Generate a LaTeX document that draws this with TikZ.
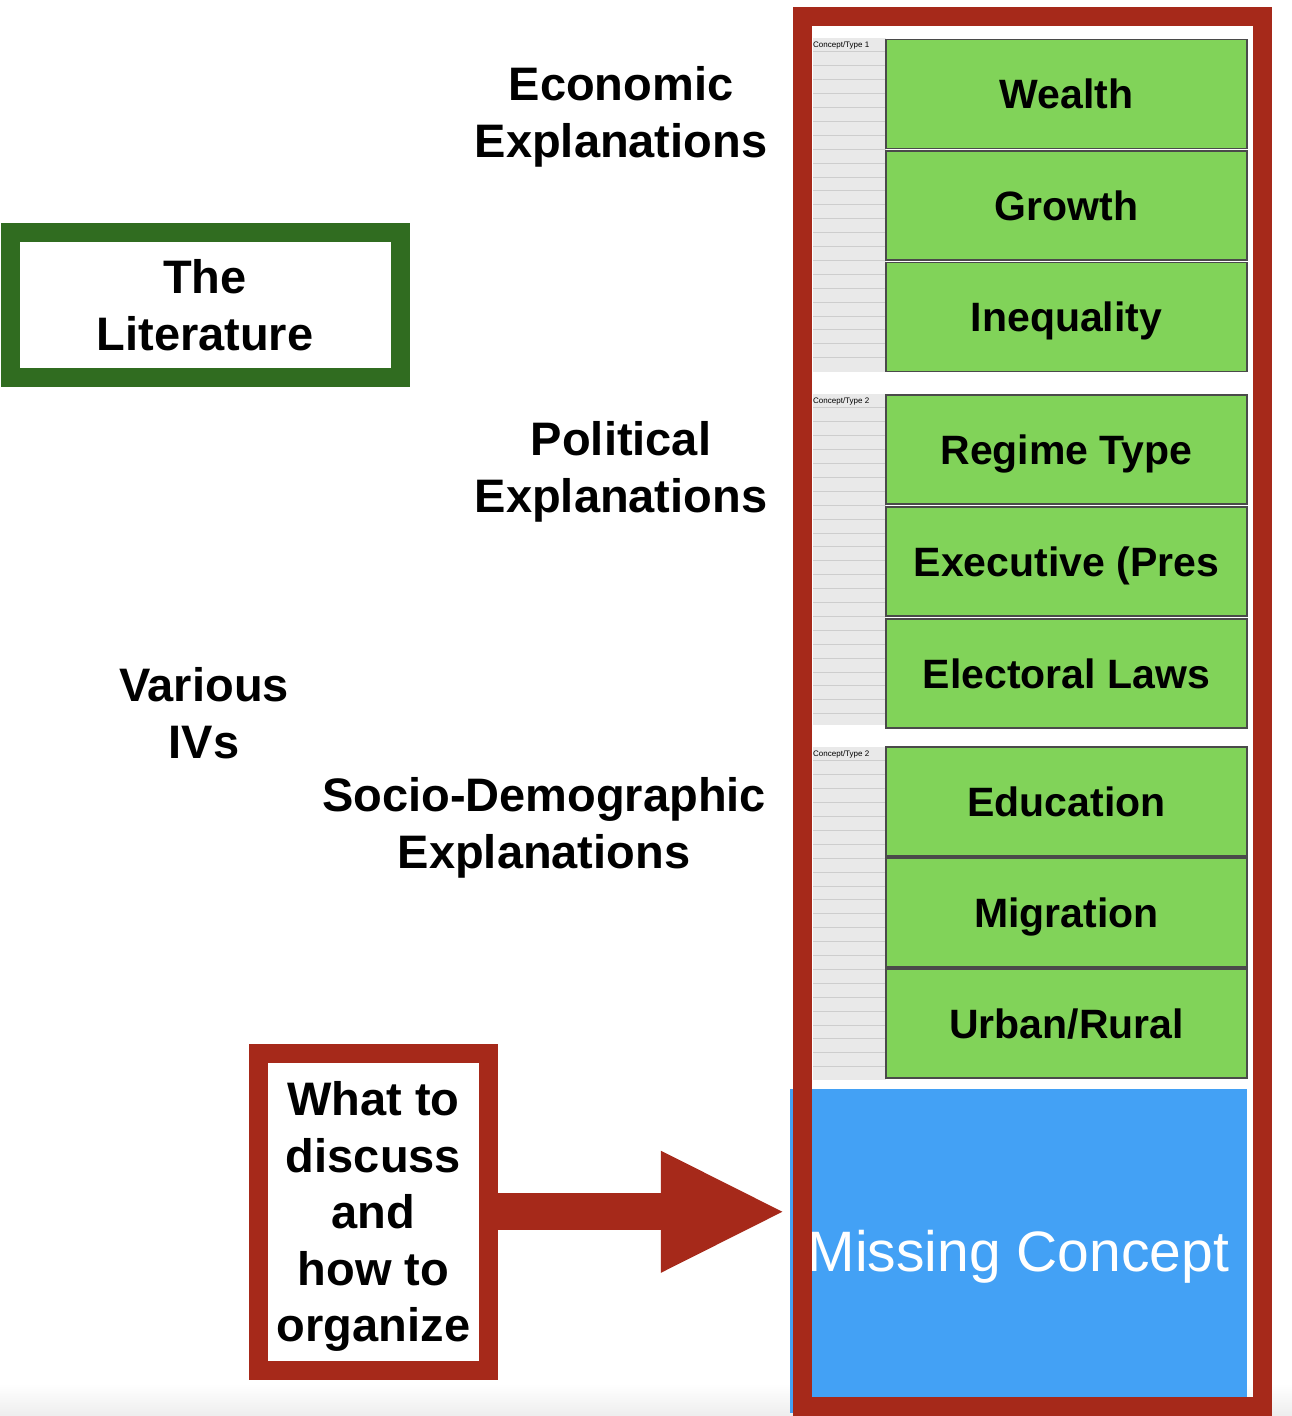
\documentclass[tikz,border=0pt]{standalone}
\usepackage{fontspec}
\setmainfont{Liberation Sans}
\usepackage{tikz}
\usetikzlibrary{arrows.meta,positioning,calc}
\definecolor{framered}{HTML}{A6291A}
\definecolor{litgreen}{HTML}{306C20}
\definecolor{cellgreen}{HTML}{81D359}
\definecolor{missblue}{HTML}{43A1F5}
\definecolor{rowgray}{HTML}{E9E9E9}
\definecolor{rowline}{HTML}{CDCDCD}
\definecolor{celledge}{HTML}{4A4A4A}
\tikzset{
    heading/.style={font=\fontsize{47}{56.5}\selectfont\bfseries,align=center,
      inner sep=0pt},
    boxed/.style={fill=white,line width=19pt,inner sep=0pt,align=center,
      text depth=0pt,font=\fontsize{47}{56.5}\selectfont\bfseries},
    cell/.style={draw=celledge,fill=cellgreen,line width=1.2pt,
      minimum width=361pt,minimum height=109pt,inner sep=0pt,text depth=0pt,
      font=\fontsize{41}{49}\selectfont\bfseries},
    missing/.style={fill=missblue,text=white,minimum width=457pt,
      minimum height=324pt,inner sep=0pt,text depth=0pt,
      font=\fontsize{57}{68}\selectfont},
    tinylabel/.style={font=\fontsize{8}{9}\selectfont,inner sep=0pt,anchor=west},
    blockarrow/.style={-{Triangle[length=125pt,width=112pt]},draw=framered,
      line width=37pt}
}
\begin{document}
\begin{tikzpicture}[x=1pt,y=-1pt]
  \useasboundingbox (0,0) rectangle (1292,1416);
  \fill[white] (0,0) rectangle (1292,1416);
  \shade[top color=white,bottom color=black!7] (0,1384) rectangle (1292,1416);
  % grey table rows behind the concepts
  \foreach \ytop/\colh/\tag in {38/334/1,394/331/2,747/333/2}{
    \fill[rowgray] (813,\ytop) rectangle (886,\ytop+\colh);
    \foreach \r in {1,...,23}
      \draw[rowline,line width=1pt] (813,\ytop+\r*13.9) -- (886,\ytop+\r*13.9);
    \node[tinylabel] at (813,\ytop+7) {Concept/Type \tag};
  }
  % concepts
  \node[cell] (wealth) at (1066.5,94) {Wealth};
  \node[cell] (growth) at (1066.5,205.5) {Growth};
  \node[cell] (ineq) at (1066.5,317) {Inequality};
  \node[cell] (regime) at (1066.5,449.5) {Regime Type};
  \node[cell] (exec) at (1066.5,561.5) {Executive (Pres};
  \node[cell] (elect) at (1066.5,673.5) {Electoral Laws};
  \node[cell] (educ) at (1066.5,801.5) {Education};
  \node[cell] (migr) at (1066.5,912.5) {Migration};
  \node[cell] (urban) at (1066.5,1023.5) {Urban/Rural};
  \node[missing] (miss) at (1018.5,1251) {Missing Concept};
  \node[draw=framered,line width=19pt,minimum width=460pt,minimum height=1390pt,
    inner sep=0pt] (frame) at (1032.5,711.5) {};
  % headings
  \node[heading] (econ) at (621,117) {Economic\\Explanations};
  \node[heading] (pol) at (621,472) {Political\\Explanations};
  \node[heading] (socio) at (544,828) {Socio-Demographic\\Explanations};
  \node[heading] (ivs) at (204,713) {Various\\IVs};
  \node[boxed,draw=litgreen,minimum width=390pt,minimum height=145.5pt]
    (lit) at (205,304.75) {The\\Literature};
  \node[boxed,draw=framered,minimum width=230pt,minimum height=317.5pt]
    (todo) at (373.5,1211.75) {What to\\discuss\\and\\how to\\organize};
  \draw[blockarrow,shorten >=4pt] (todo.east) -- (todo.east -| miss.west);
\end{tikzpicture}
\end{document}
